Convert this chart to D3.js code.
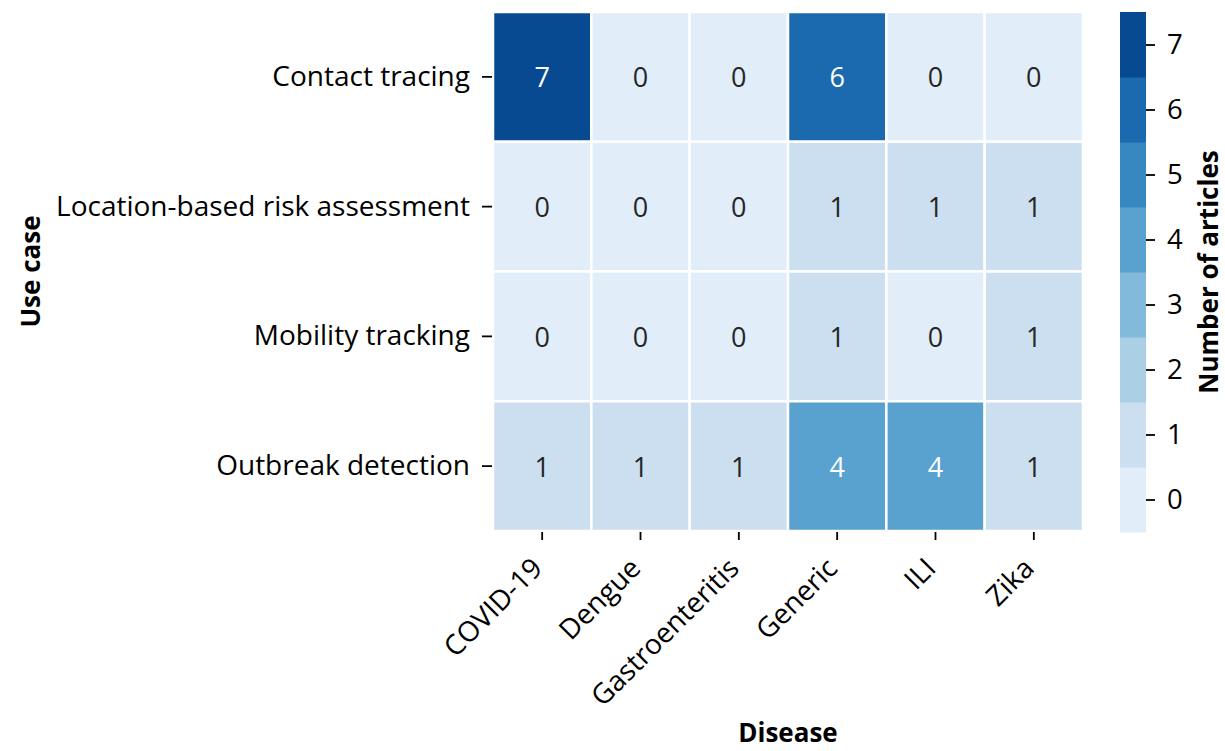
<!DOCTYPE html>
<html>
<head>
<meta charset="utf-8">
<script src="https://cdn.jsdelivr.net/npm/d3@7"></script>
<style>
  html, body { margin: 0; padding: 0; background: #fff; }
  svg { display: block; font-family: "Open Sans", "Noto Sans", sans-serif; }
</style>
</head>
<body>
<svg id="chart" width="1225" height="751"></svg>
<script>
// Articles per use case and disease
const diseases = ["COVID-19", "Dengue", "Gastroenteritis", "Generic", "ILI", "Zika"];
const useCases = ["Contact tracing", "Location-based risk assessment", "Mobility tracking", "Outbreak detection"];
const counts = [
  [7, 0, 0, 6, 0, 0],
  [0, 0, 0, 1, 1, 1],
  [0, 0, 0, 1, 0, 1],
  [1, 1, 1, 4, 4, 1]
];
const colorbarTicks = [0, 1, 2, 3, 4, 5, 6, 7];
// Discrete Blues palette, one shade per count 0..7
const palette = ["#e1edf8", "#cbdff1", "#abd0e6", "#82badb", "#59a2cf", "#3787c0", "#1b6aaf", "#084a91"];

const FS = 28;
const svg = d3.select("#chart");
const plot = { left: 493, right: 1083, top: 12, bottom: 531 };

const x = d3.scaleBand().domain(diseases).range([plot.left, plot.right]);
const y = d3.scaleBand().domain(useCases).range([plot.top, plot.bottom]);
const color = d3.scaleQuantize().domain([-0.5, 7.5]).range(palette);

const cells = [];
counts.forEach((row, i) => row.forEach((v, j) => cells.push({ r: useCases[i], c: diseases[j], v })));

const g = svg.append("g");
g.selectAll("rect.cell").data(cells).join("rect")
  .attr("class", "cell")
  .attr("x", d => x(d.c))
  .attr("y", d => y(d.r))
  .attr("width", x.bandwidth())
  .attr("height", y.bandwidth())
  .attr("fill", d => color(d.v))
  .attr("stroke", "#fff")
  .attr("stroke-width", 2.5);

g.selectAll("text.ann").data(cells).join("text")
  .attr("class", "ann")
  .attr("x", d => x(d.c) + x.bandwidth() / 2)
  .attr("y", d => y(d.r) + y.bandwidth() / 2)
  .attr("text-anchor", "middle")
  .attr("dominant-baseline", "central")
  .attr("font-size", 27)
  .attr("fill", d => d.v >= 4 ? "#fff" : "#262626")
  .text(d => d.v);

// Axes
const xAxis = svg.append("g")
  .attr("transform", `translate(0,${plot.bottom + 1})`)
  .call(d3.axisBottom(x).tickSize(8).tickPadding(0));
xAxis.select(".domain").remove();
xAxis.selectAll(".tick line").attr("stroke", "#000").attr("stroke-width", 1.8);
xAxis.selectAll(".tick text")
  .attr("font-size", FS)
  .attr("font-family", "Open Sans, Noto Sans, sans-serif")
  .attr("fill", "#000")
  .attr("text-anchor", "end")
  .attr("y", 0)
  .attr("dy", "0.35em")
  .attr("transform", "translate(-5,31) rotate(-45)");

const yAxis = svg.append("g")
  .attr("transform", `translate(${plot.left - 1},0)`)
  .call(d3.axisLeft(y).tickSize(10).tickPadding(12));
yAxis.select(".domain").remove();
yAxis.selectAll(".tick line").attr("stroke", "#000").attr("stroke-width", 1.8);
yAxis.selectAll(".tick text")
  .attr("font-size", FS)
  .attr("font-family", "Open Sans, Noto Sans, sans-serif")
  .attr("fill", "#000");

// Axis titles
svg.append("text")
  .attr("x", 788).attr("y", 742)
  .attr("text-anchor", "middle")
  .attr("font-size", 26).attr("font-weight", "bold")
  .text("Disease");
svg.append("text")
  .attr("transform", `translate(40,${(plot.top + plot.bottom) / 2}) rotate(-90)`)
  .attr("text-anchor", "middle")
  .attr("font-size", 26).attr("font-weight", "bold")
  .text("Use case");

// Colour bar
const cb = { left: 1120, width: 26, top: 12, bottom: 532 };
const cbScale = d3.scaleLinear().domain([-0.5, 7.5]).range([cb.bottom, cb.top]);
svg.append("g").selectAll("rect").data(palette).join("rect")
  .attr("x", cb.left)
  .attr("y", (d, i) => cbScale(i + 0.5))
  .attr("width", cb.width)
  .attr("height", (d, i) => cbScale(i - 0.5) - cbScale(i + 0.5) + 0.5)
  .attr("fill", d => d);

const cbAxis = svg.append("g")
  .attr("transform", `translate(${cb.left + cb.width},0)`)
  .call(d3.axisRight(cbScale).tickValues(colorbarTicks).tickSize(9).tickPadding(12));
cbAxis.select(".domain").remove();
cbAxis.selectAll(".tick line").attr("stroke", "#000").attr("stroke-width", 1.8);
cbAxis.selectAll(".tick text")
  .attr("font-size", 27.5)
  .attr("font-family", "Open Sans, Noto Sans, sans-serif")
  .attr("fill", "#000");

svg.append("text")
  .attr("transform", `translate(1218,${(cb.top + cb.bottom) / 2}) rotate(-90)`)
  .attr("text-anchor", "middle")
  .attr("font-size", 26).attr("font-weight", "bold")
  .text("Number of articles");
</script>
</body>
</html>
